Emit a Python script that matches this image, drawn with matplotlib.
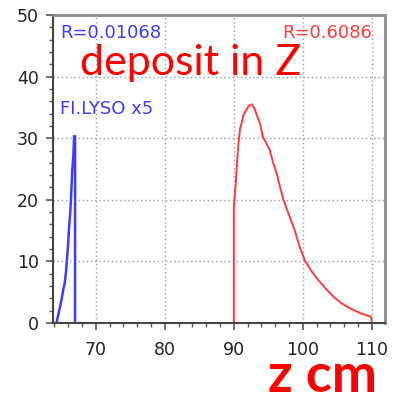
import matplotlib
matplotlib.use("Agg")
import matplotlib.pyplot as plt
from matplotlib.ticker import MultipleLocator

# Energy deposit profile along z: fibre LYSO layer (scaled x5) and calorimeter
lyso_z = [64.3, 64.6, 64.9, 65.1, 65.3, 65.5, 65.7, 65.8, 66.0, 66.1, 66.3,
          66.4, 66.5, 66.6, 66.75, 66.85, 67.0, 67.0]
lyso_dep = [0, 1.5, 3, 4.2, 5.5, 6.5, 8.5, 10, 13, 15, 18,
            20, 22.5, 25, 27, 30.3, 30.3, 0]

calo_z = [90.0, 90.0, 90.3, 90.5, 90.7, 90.9, 91.1, 91.4, 91.8, 92.2, 92.6,
          93.0, 93.4, 93.8, 94.2, 94.7, 95.2, 95.7, 96.2, 96.7, 97.2, 97.9,
          98.8, 99.5, 100.3, 101.2, 102.2, 103.3, 104.4, 105.6, 106.8,
          108.3, 109.9, 110.0]
calo_dep = [0, 19, 23, 26.7, 29.5, 31.5, 32.4, 33.8, 34.6, 35.3, 35.5,
            34.8, 33.5, 32.4, 30.2, 29.2, 28.1, 26.0, 24.3, 22.0, 20.0, 17.8,
            15.1, 12.5, 10.1, 8.5, 7.0, 5.6, 4.3, 3.2, 2.4,
            1.6, 1.0, 0]

lyso_label = "R=0.01068"
lyso_name = "FI.LYSO x5"
calo_label = "R=0.6086"
title = "deposit in Z"
xlabel = "z cm"

x_ticks = [70, 80, 90, 100, 110]
y_ticks = [0, 10, 20, 30, 40, 50]

W, H = 393, 397
fig = plt.figure(figsize=(W / 100, H / 100), dpi=100)
fig.patch.set_facecolor("white")

left, right, top, bottom = 53, 385, 15, 323
ax = fig.add_axes([left / W, 1 - bottom / H, (right - left) / W, (bottom - top) / H])

ax.plot(lyso_z, lyso_dep, color="#3c3cff", lw=1.8, solid_joinstyle="miter")
ax.plot(calo_z, calo_dep, color="#ff3a3a", lw=1.4)

ax.set_xlim(63.8, 111.9)
ax.set_ylim(0, 50)
ax.set_xticks(x_ticks)
ax.set_yticks(y_ticks)
ax.xaxis.set_minor_locator(MultipleLocator(2))
ax.yaxis.set_minor_locator(MultipleLocator(2))
ax.tick_params(which="major", direction="out", length=5, width=1.2,
               color="#555555", labelsize=12.5, labelcolor="#222222")
ax.tick_params(axis="x", which="major", pad=8)
ax.tick_params(axis="y", which="major", pad=5)
ax.tick_params(which="minor", direction="out", length=3, width=1.0,
               color="#555555")

ax.grid(True, which="major", color="#9a9a9a", linestyle=(0, (1, 2)), lw=1.0)
ax.set_axisbelow(True)

for side in ("left", "bottom"):
    ax.spines[side].set_color("#444444")
    ax.spines[side].set_linewidth(1.5)
for side in ("top", "right"):
    ax.spines[side].set_color("#8a8a8a")
    ax.spines[side].set_linewidth(2.0)

fig.text(60 / W, 1 - 33 / H, lyso_label, color="#3c3cff", fontsize=13,
         va="center", ha="left", family="DejaVu Sans")
fig.text(60 / W, 1 - 109 / H, lyso_name, color="#3c3cff", fontsize=13,
         va="center", ha="left", family="DejaVu Sans")
fig.text(372 / W, 1 - 33 / H, calo_label, color="#ff3a3a", fontsize=13,
         va="center", ha="right", family="DejaVu Sans")

fig.text(80 / W, 1 - 75 / H, title, color="#ff0000", fontsize=31,
         va="baseline", ha="left", family="Lato")
fig.text(268 / W, 1 - 392 / H, xlabel, color="#ff0000", fontsize=39,
         fontweight="bold", va="baseline", ha="left", family="Lato")

fig.savefig("out.png", dpi=100)
